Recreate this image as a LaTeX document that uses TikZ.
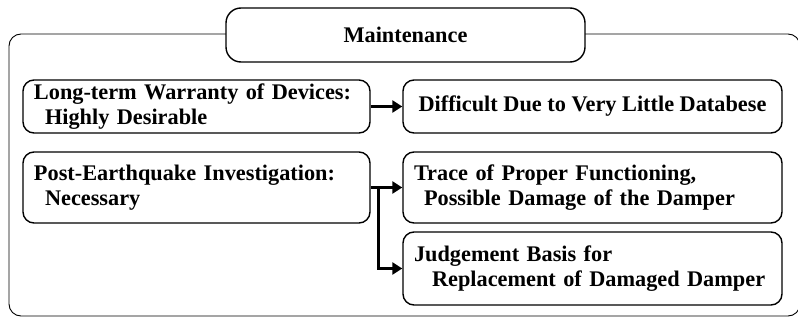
\documentclass[tikz,border=0pt]{standalone}
\usepackage{fontspec}
\setmainfont{Liberation Serif}
\usetikzlibrary{arrows.meta}

\tikzset{
  box/.style={draw, line width=1.4pt, rounded corners=11pt, inner xsep=11pt,
    font=\fontsize{22.3}{24.5}\selectfont\bfseries, align=left},
  arr/.style={line width=3pt, -{Triangle[length=10pt,width=12pt]}}
}

\begin{document}
\begin{tikzpicture}[x=1pt,y=-1pt]
  \useasboundingbox (0,0) rectangle (798,321);
  % outer frame
  \draw[line width=0.9pt, rounded corners=12pt] (9,34) rectangle (800,316);
  \node[box, fill=white, rounded corners=15pt, minimum width=359pt, minimum height=54pt,
    align=center] (title) at (405.5,35) {Maintenance};

  \node[box, text width=325pt, minimum height=53pt] (warranty) at (196.5,106.5)
    {Long-term Warranty of Devices:\\\hspace*{11pt}Highly Desirable};
  \node[box, minimum width=379pt, minimum height=53pt, inner xsep=4pt] (database) at (592.5,106.5)
    {Difficult Due to Very Little Databese};

  \node[box, text width=325pt, minimum height=71pt] (investigation) at (196.5,187.5)
    {Post-Earthquake Investigation:\\\hspace*{11pt}Necessary};
  \node[box, text width=357pt, minimum height=71pt] (trace) at (592.5,187.5)
    {Trace of Proper Functioning,\\\hspace*{10pt}Possible Damage of the Damper};
  \node[box, text width=357pt, minimum height=73pt] (judgement) at (592.5,268.5)
    {Judgement Basis for\\\hspace*{18pt}Replacement of Damaged Damper};

  \draw[arr] (warranty) -- (database);
  \draw[arr] (investigation) -- (trace);
  \coordinate (split) at (378,187.5);
  \draw[arr] (split) |- (judgement);
\end{tikzpicture}
\end{document}
